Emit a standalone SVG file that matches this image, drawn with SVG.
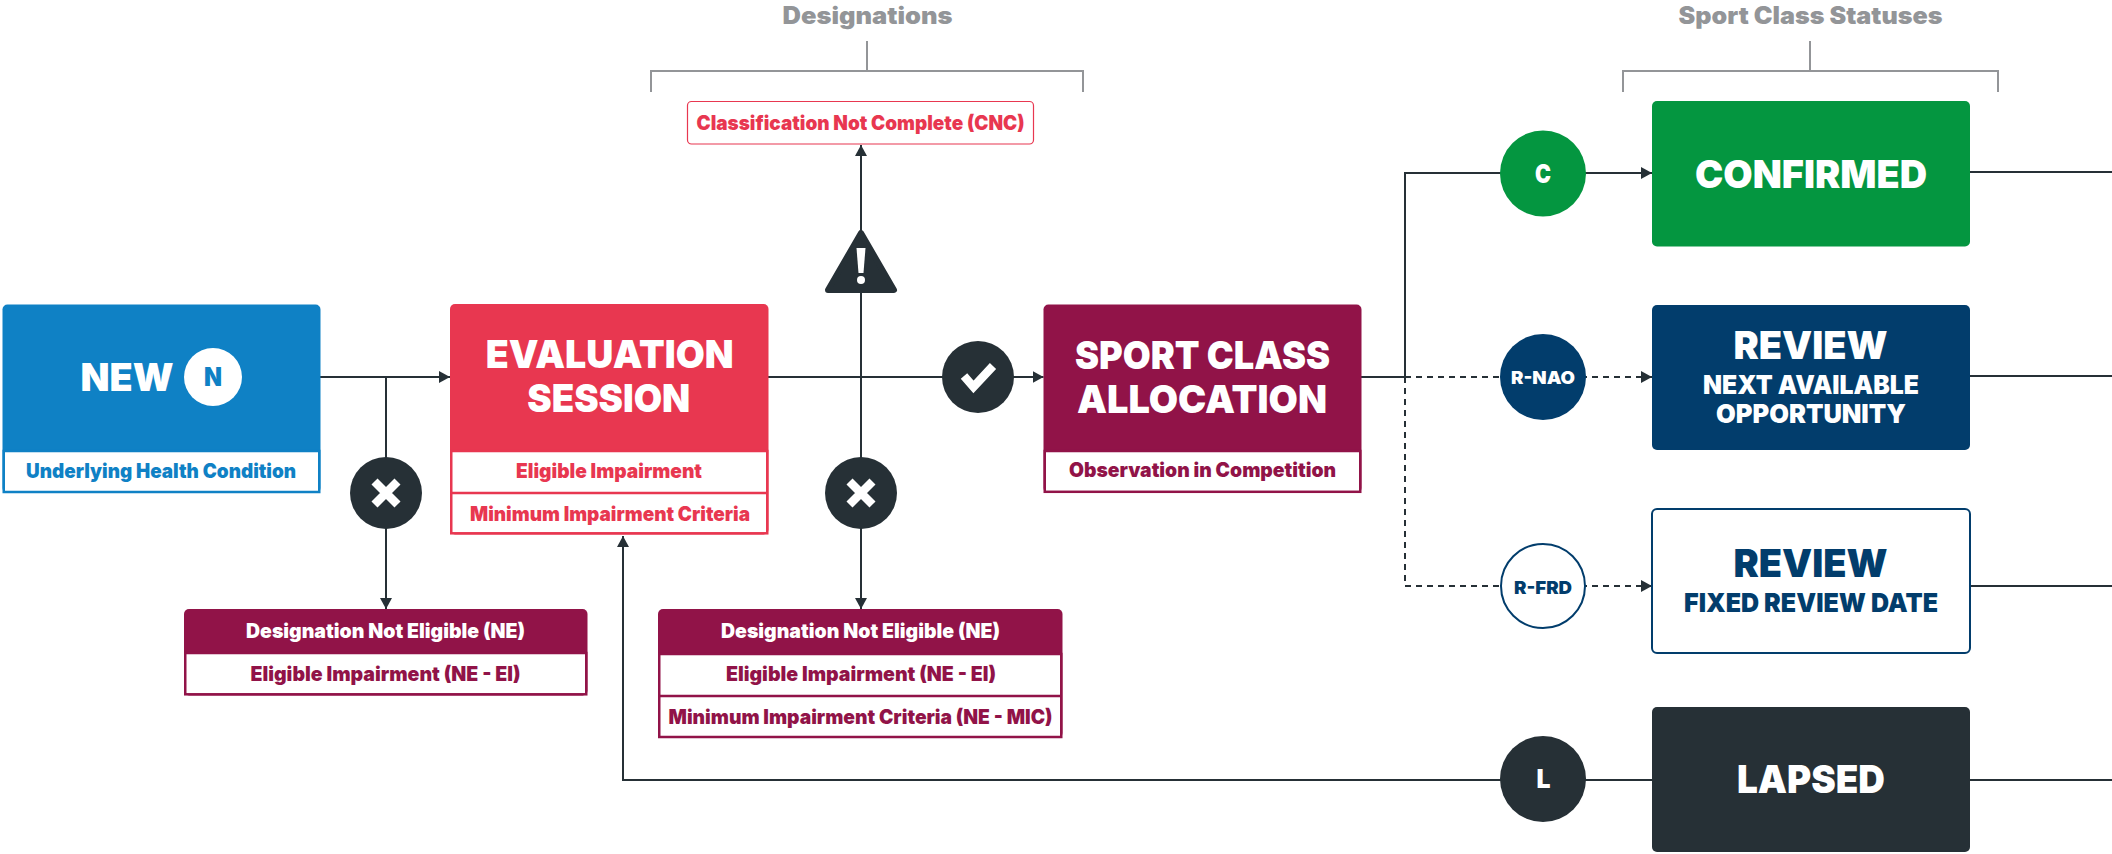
<svg xmlns="http://www.w3.org/2000/svg" width="2112" height="854" viewBox="0 0 2112 854">
<style>
text{font-family:"Inter","Liberation Sans",sans-serif;font-weight:900;text-anchor:middle}
.c{fill:none;stroke:#263036;stroke-width:2}
.d{fill:none;stroke:#263036;stroke-width:2;stroke-dasharray:6 5}
.a{marker-end:url(#arrow)}
.b{fill:none;stroke:#939598;stroke-width:2}
.g{fill:#939598;font-size:24px}
.w{fill:#fff}
.h1{font-size:39px}
.h2{font-size:26px}
.s{font-size:20px}
.m{font-size:18px}
.blue{fill:#0f81c5}.red{fill:#e83750}.mar{fill:#911348}.navy{fill:#023d6c}.dark{fill:#263036}.green{fill:#049640}
.panel{fill:#fff;stroke-width:2.5}
.sep{stroke-width:2.5;fill:none}
.ic{fill:none;stroke:#fff;stroke-width:8.5}
</style>
<defs>
<marker id="arrow" markerUnits="userSpaceOnUse" markerWidth="11" markerHeight="12" refX="11" refY="6" orient="auto"><path d="M0 0L11 6L0 12Z" fill="#263036"/></marker>
</defs>

<g id="connectors">
<path class="c a" d="M320 377H450"/>
<path class="c a" d="M386 377V609"/>
<path class="c a" d="M768 377H1043.5"/>
<path class="c a" d="M861 377V609"/>
<path class="c a" d="M861 377V145"/>
<path class="c a" d="M1361 377H1405V173H1652"/>
<path class="d a" d="M1405 377H1652"/>
<path class="d a" d="M1405 377V586H1652"/>
<path class="c a" d="M1652 780H623V536"/>
<path class="c" d="M1970 172H2112"/>
<path class="c" d="M1970 376H2112"/>
<path class="c" d="M1970 586H2112"/>
<path class="c" d="M1970 780H2112"/>
</g>

<g id="bracket-designations">
<path class="b" d="M867 41V71M651 92V71H1083V92"/>
<text class="g" x="867.5" y="24" textLength="170" lengthAdjust="spacingAndGlyphs">Designations</text>
</g>
<g id="bracket-statuses">
<path class="b" d="M1810 41V71M1623 92V71H1998V92"/>
<text class="g" x="1810.5" y="24" textLength="264" lengthAdjust="spacingAndGlyphs">Sport Class Statuses</text>
</g>

<g id="node-new">
<rect class="blue" x="2.5" y="304.5" width="318" height="188.5" rx="5"/>
<rect class="panel" style="stroke:#0f81c5" x="3.750" y="451" width="315.500" height="41"/>
<text class="w h1" x="127" y="391" textLength="93" lengthAdjust="spacingAndGlyphs">NEW</text>
<circle class="w" cx="213" cy="377" r="29"/>
<text class="blue h2" x="213" y="386" textLength="18" lengthAdjust="spacingAndGlyphs">N</text>
<text class="blue s" x="161" y="478" textLength="270" lengthAdjust="spacingAndGlyphs">Underlying Health Condition</text>
</g>

<g id="node-evaluation">
<rect class="red" x="450" y="304" width="318.500" height="230.500" rx="5"/>
<rect class="panel" style="stroke:#e83750" x="451.250" y="451" width="316" height="82.300"/>
<path class="sep" style="stroke:#e83750" d="M451 493H767"/>
<text class="w h1" x="609.700" y="368" textLength="248" lengthAdjust="spacingAndGlyphs">EVALUATION</text>
<text class="w h1" x="608.800" y="412" textLength="163" lengthAdjust="spacingAndGlyphs">SESSION</text>
<text class="red s" x="609" y="478" textLength="186" lengthAdjust="spacingAndGlyphs">Eligible Impairment</text>
<text class="red s" x="610" y="521" textLength="280" lengthAdjust="spacingAndGlyphs">Minimum Impairment Criteria</text>
</g>

<g id="node-sport-class">
<rect class="mar" x="1043.500" y="304.500" width="318" height="188.500" rx="5"/>
<rect class="panel" style="stroke:#911348" x="1044.750" y="451" width="315.500" height="40.800"/>
<text class="w h1" x="1202.500" y="369" textLength="255" lengthAdjust="spacingAndGlyphs">SPORT CLASS</text>
<text class="w h1" x="1202" y="413" textLength="250" lengthAdjust="spacingAndGlyphs">ALLOCATION</text>
<text class="mar s" x="1202.500" y="477" textLength="267" lengthAdjust="spacingAndGlyphs">Observation in Competition</text>
</g>

<g id="node-cnc">
<rect x="687.500" y="101.500" width="346" height="42.500" rx="4" fill="#fff" stroke="#e83750" stroke-width="1.200"/>
<text class="red s" x="860.500" y="129.500" textLength="328" lengthAdjust="spacingAndGlyphs">Classification Not Complete (CNC)</text>
</g>

<g id="node-ne-1">
<rect class="mar" x="184" y="609" width="403.500" height="86.500" rx="5"/>
<rect class="panel" style="stroke:#911348" x="185.250" y="653" width="401" height="41.300"/>
<text class="w s" x="385.500" y="638" textLength="279" lengthAdjust="spacingAndGlyphs">Designation Not Eligible (NE)</text>
<text class="mar s" x="385.500" y="681" textLength="270" lengthAdjust="spacingAndGlyphs">Eligible Impairment (NE - EI)</text>
</g>

<g id="node-ne-2">
<rect class="mar" x="658" y="609" width="404.500" height="129" rx="5"/>
<rect class="panel" style="stroke:#911348" x="659.250" y="654" width="402" height="83"/>
<path class="sep" style="stroke:#911348" d="M659 696H1061"/>
<text class="w s" x="860.500" y="638" textLength="279" lengthAdjust="spacingAndGlyphs">Designation Not Eligible (NE)</text>
<text class="mar s" x="861" y="681" textLength="270" lengthAdjust="spacingAndGlyphs">Eligible Impairment (NE - EI)</text>
<text class="mar s" x="860.500" y="724" textLength="384" lengthAdjust="spacingAndGlyphs">Minimum Impairment Criteria (NE - MIC)</text>
</g>

<g id="gate-reject-1">
<circle class="dark" cx="386" cy="493" r="36"/>
<path class="ic" d="M374.500 481.500L397.500 504.500M397.500 481.500L374.500 504.500"/>
</g>
<g id="gate-reject-2">
<circle class="dark" cx="861" cy="493" r="36"/>
<path class="ic" d="M849.500 481.500L872.500 504.500M872.500 481.500L849.500 504.500"/>
</g>
<g id="gate-approve">
<circle class="dark" cx="978" cy="377" r="36"/>
<path class="ic" d="M964 376L973.500 387L993 366"/>
</g>
<g id="gate-warning">
<path class="dark" stroke="#263036" stroke-width="6" stroke-linejoin="round" d="M861 233L894 290H828Z"/>
<path class="w" d="M856.500 248H865.500L863.500 273H858.500Z"/>
<circle class="w" cx="861" cy="280" r="4"/>
</g>

<g id="badge-c">
<circle class="green" cx="1543" cy="173.500" r="43"/>
<text class="w h2" x="1543" y="183" textLength="16" lengthAdjust="spacingAndGlyphs">C</text>
</g>
<g id="badge-r-nao">
<circle class="navy" cx="1543" cy="377" r="43"/>
<text class="w m" x="1543" y="384" textLength="64" lengthAdjust="spacingAndGlyphs">R-NAO</text>
</g>
<g id="badge-r-frd">
<circle fill="#fff" stroke="#023d6c" stroke-width="2" cx="1543" cy="586" r="42"/>
<text class="navy m" x="1543" y="594" textLength="58" lengthAdjust="spacingAndGlyphs">R-FRD</text>
</g>
<g id="badge-l">
<circle class="dark" cx="1543" cy="779" r="43"/>
<text class="w h2" x="1543.500" y="788" textLength="14" lengthAdjust="spacingAndGlyphs">L</text>
</g>

<g id="node-confirmed">
<rect class="green" x="1652" y="101" width="318" height="145.500" rx="5"/>
<text class="w h1" x="1811" y="188" textLength="232" lengthAdjust="spacingAndGlyphs">CONFIRMED</text>
</g>
<g id="node-review-nao">
<rect class="navy" x="1652" y="305" width="318" height="145" rx="5"/>
<text class="w h1" x="1810.500" y="359" textLength="154" lengthAdjust="spacingAndGlyphs">REVIEW</text>
<text class="w h2" x="1811" y="393.500" textLength="216" lengthAdjust="spacingAndGlyphs">NEXT AVAILABLE</text>
<text class="w h2" x="1811" y="423" textLength="190" lengthAdjust="spacingAndGlyphs">OPPORTUNITY</text>
</g>
<g id="node-review-frd">
<rect fill="#fff" stroke="#023d6c" stroke-width="2" x="1652" y="509" width="318" height="144" rx="5"/>
<text class="navy h1" x="1810.500" y="577" textLength="154" lengthAdjust="spacingAndGlyphs">REVIEW</text>
<text class="navy h2" x="1811" y="611.500" textLength="254" lengthAdjust="spacingAndGlyphs">FIXED REVIEW DATE</text>
</g>
<g id="node-lapsed">
<rect class="dark" x="1652" y="707" width="318" height="145" rx="5"/>
<text class="w h1" x="1811" y="793" textLength="148" lengthAdjust="spacingAndGlyphs">LAPSED</text>
</g>
</svg>
